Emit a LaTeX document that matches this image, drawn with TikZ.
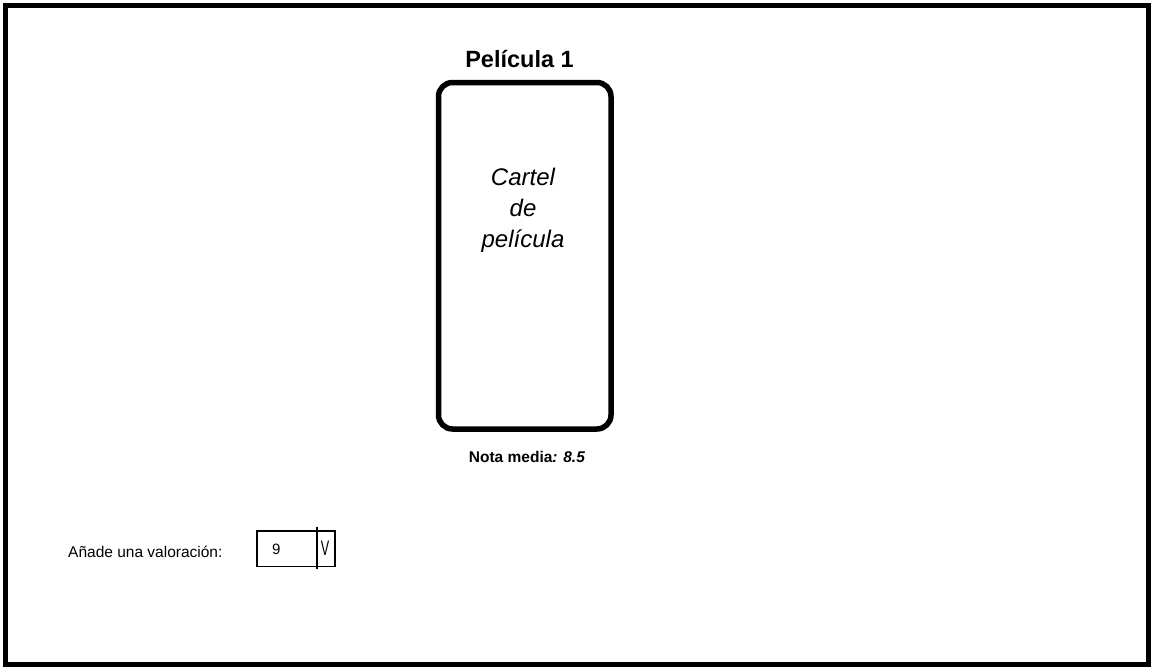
\documentclass[tikz,border=0pt]{standalone}
\usepackage{fontspec}
\setmainfont{Liberation Sans}
\begin{document}
\begin{tikzpicture}[x=1pt,y=-1pt,
  frame/.style={line width=5pt},
  poster/.style={draw, line width=5.5pt, rounded corners=14pt, inner sep=0pt},
  title/.style={font=\fontsize{23.5}{28}\selectfont\bfseries, inner sep=0pt, anchor=base},
  postertext/.style={font=\fontsize{24}{31}\selectfont\itshape, align=center, inner sep=0pt},
  note/.style={font=\fontsize{15.5}{18}\selectfont\bfseries, inner sep=0pt, anchor=base},
  label/.style={font=\fontsize{15.5}{18}\selectfont, inner sep=0pt, anchor=base},
  combo/.style={draw, line width=1.1pt, inner sep=0pt},
  thin/.style={line width=1.1pt}
]
\useasboundingbox (0,0) rectangle (1151,667);
\fill[white] (0,0) rectangle (1151,667);
\draw[frame] (5.5,5.5) rectangle (1148.5,664.5);

\node[title] (title) at (519.5,67.3) {Película 1};
\node[poster, minimum width=172.5pt, minimum height=346.5pt] (poster) at (524.75,255.75) {};
\node[postertext, anchor=north] (ptext) at (523,168) {Cartel\\de\\película};
\node[note] (nota) at (527,462) {Nota media\textit{: 8.5}};

\node[label, anchor=base west] (valor) at (68,557) {Añade una valoración:};
\node[combo, minimum width=78pt, minimum height=35.5pt] (combo) at (296,548.75) {};
\draw[thin] ([xshift=21pt,yshift=3pt]combo.north) -- ([xshift=21pt,yshift=-1.5pt]combo.south);
\node[font=\fontsize{15}{18}\selectfont, inner sep=0pt, anchor=base] (nine) at (276.2,554) {9};
\node[font=\fontsize{21}{24}\selectfont, inner sep=0pt, anchor=base, xscale=0.6] (arrow) at (325,555) {V};
\end{tikzpicture}
\end{document}
